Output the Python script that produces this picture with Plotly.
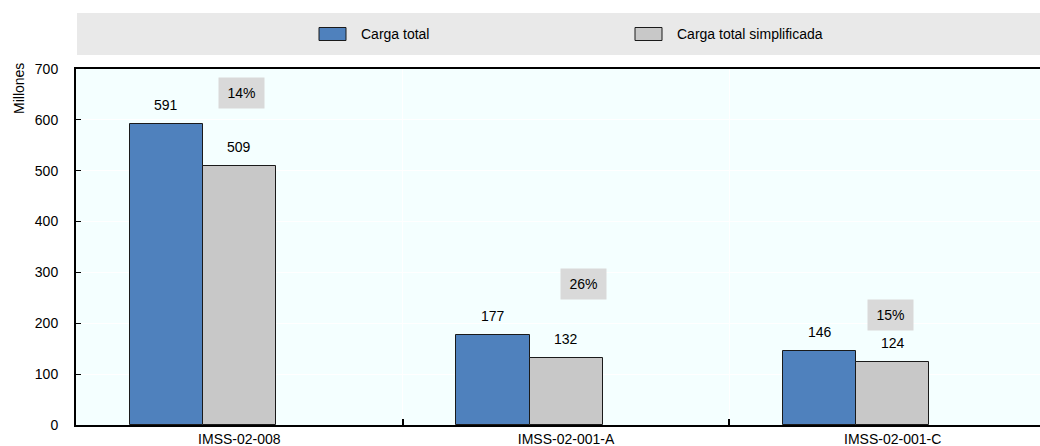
import plotly.graph_objects as go

# Data
categories = ["IMSS-02-008", "IMSS-02-001-A", "IMSS-02-001-C"]
carga_total = [591, 177, 146]
carga_simplificada = [509, 132, 124]
reduccion_labels = ["14%", "26%", "15%"]
# placement of the reduction boxes (category units / axis units)
reduccion_label_x = [0.007, 1.054, 1.992]
reduccion_label_y = [652, 277, 216]

series_names = ["Carga total", "Carga total simplificada"]
BLUE = "#4F81BD"
GREY = "#C8C8C8"
FONT = "Liberation Sans, Arial, sans-serif"
FS = 14

x_pos = list(range(len(categories)))
bw = 0.2235  # bar width in category units

W, H = 1040, 446
ML, MT, MB = 76, 69, 21


def px_x(v):
    return (v - ML) / (W - ML)


def px_y(v):
    return (H - MB - v) / (H - MT - MB)


fig = go.Figure()
fig.add_trace(go.Bar(
    x=x_pos, y=carga_total, name=series_names[0],
    width=bw, offset=-1.5 * bw,
    marker=dict(color=BLUE, line=dict(color="#1a1a1a", width=1)),
    showlegend=False,
))
fig.add_trace(go.Bar(
    x=x_pos, y=carga_simplificada, name=series_names[1],
    width=bw, offset=-0.5 * bw,
    marker=dict(color=GREY, line=dict(color="#1a1a1a", width=1)),
    showlegend=False,
))

annotations = []
# value labels above the bars
for i in x_pos:
    for dx, vals in ((-bw, carga_total), (0.0, carga_simplificada)):
        annotations.append(dict(
            x=i + dx, y=vals[i], xref="x", yref="y",
            text=str(vals[i]), showarrow=False,
            yanchor="middle", yshift=19,
            font=dict(family=FONT, size=FS, color="#000"),
        ))
# reduction percentage boxes
for i in x_pos:
    annotations.append(dict(
        x=reduccion_label_x[i], y=reduccion_label_y[i], xref="x", yref="y",
        text=reduccion_labels[i], showarrow=False,
        bgcolor="#D9D9D9", width=43, height=28,
        font=dict(family=FONT, size=FS, color="#000"),
    ))
# y axis title
annotations.append(dict(
    x=px_x(19), y=px_y(89), xref="paper", yref="paper",
    xanchor="center", yanchor="middle",
    text="Millones", textangle=-90, showarrow=False,
    font=dict(family=FONT, size=FS, color="#000"),
))

shapes = [
    # legend band
    dict(type="rect", xref="paper", yref="paper",
         x0=px_x(77), x1=px_x(1040), y0=px_y(13), y1=px_y(55),
         fillcolor="#E9E9E9", line=dict(width=0), layer="below"),
]
legend_items = [(319, BLUE, series_names[0]), (635, GREY, series_names[1])]
for x0, col, name in legend_items:
    shapes.append(dict(
        type="rect", xref="paper", yref="paper",
        x0=px_x(x0), x1=px_x(x0 + 27), y0=px_y(27.5), y1=px_y(40.5),
        fillcolor=col, line=dict(color="#1a1a1a", width=1),
    ))
    annotations.append(dict(
        x=px_x(x0 + 40), y=px_y(34), xref="paper", yref="paper",
        text=name, showarrow=False, xanchor="left", yanchor="middle",
        font=dict(family=FONT, size=FS, color="#000"),
    ))

fig.update_layout(
    width=W, height=H,
    margin=dict(l=ML, r=0, t=MT, b=MB, pad=0, autoexpand=False),
    paper_bgcolor="white",
    plot_bgcolor="#F4FFFF",
    font=dict(family=FONT, size=FS, color="#000"),
    annotations=annotations,
    shapes=shapes,
    bargap=0,
)
fig.update_xaxes(
    range=[-0.5, (W - ML) / 326.67 - 0.5],
    tickvals=x_pos, ticktext=categories,
    ticks="", showgrid=False, zeroline=False, automargin=False,
    showline=True, linecolor="#000", linewidth=2, mirror=True,
    minor=dict(tickvals=[0.5, 1.5], ticks="inside", ticklen=6,
               tickcolor="#000", tickwidth=2,
               showgrid=True, gridcolor="#FFFFFF", gridwidth=1),
    tickfont=dict(family=FONT, size=FS),
)
fig.update_yaxes(
    range=[0, 700], tickvals=[0, 100, 200, 300, 400, 500, 600, 700],
    ticks="inside", ticklen=5, tickcolor="#000", tickwidth=1,
    showgrid=True, gridcolor="#FFFFFF", gridwidth=1, zeroline=False,
    showline=True, linecolor="#000", linewidth=2, automargin=False,
    ticklabelstandoff=13,
    tickfont=dict(family=FONT, size=FS),
)

fig.write_html("out.html")
